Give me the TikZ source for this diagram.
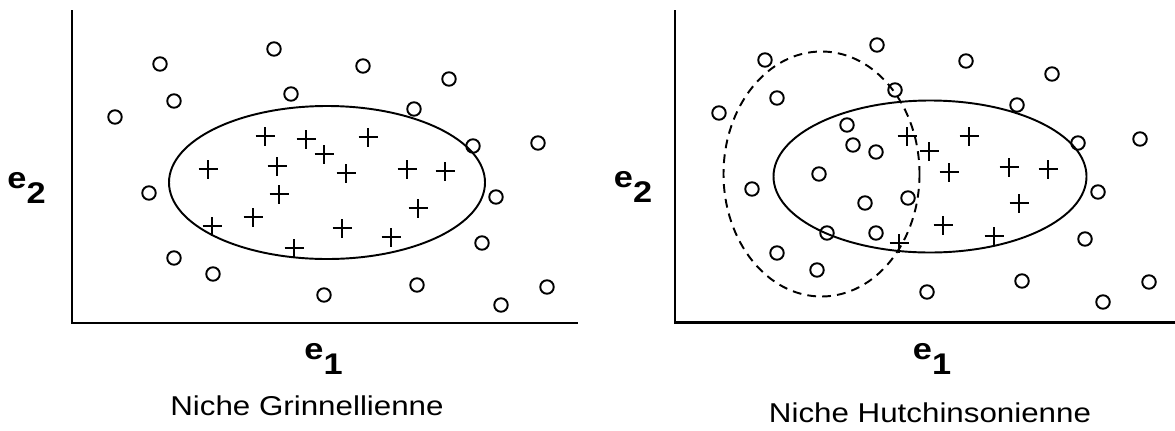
\documentclass[tikz,border=0pt]{standalone}
\usepackage{fontspec}
\setmainfont{Liberation Sans}
\usetikzlibrary{shapes.misc}

\newcommand{\breit}[1]{\scalebox{1.15}[1]{#1}}

\tikzset{
	kreis/.style={draw, circle, inner sep=0pt, minimum size=0.27cm, line width=1.1pt},
	kreuz/.style={draw, cross out, rotate=45, inner sep=0pt, minimum size=0.23cm, line width=1.1pt},
	achse/.style={line width=1.4pt},
	nische/.style={line width=1.1pt},
	achsname/.style={inner sep=0pt, font=\fontsize{17}{17}\selectfont\bfseries},
	titel/.style={inner sep=0pt, anchor=base, font=\fontsize{15.5}{15.5}\selectfont},
}

\begin{document}
\begin{tikzpicture}[x=0.02cm, y=-0.02cm]
	\useasboundingbox (0,0) rectangle (1175,430);

	% Achsen links
	\coordinate (lo) at (72,10);
	\coordinate (lu) at (72,323);
	\coordinate (lr) at (578,323);
	\draw[achse] (lo) -- (lu) -- (lr);
	% Achsen rechts
	\coordinate (ro) at (675,10);
	\coordinate (ru) at (675,322.5);
	\coordinate (rr) at (1175,322.5);
	\draw[achse] (ro) -- (ru) -- (rr);

	% Nische links
	\draw[nische] (327,182.5) ellipse [x radius=158, y radius=76.5];
	% Nischen rechts
	\draw[nische] (930,176.5) ellipse [x radius=156.5, y radius=76];
	\draw[nische, dash pattern=on 5pt off 3.5pt] (821.5,174) ellipse [x radius=98, y radius=122.5];

	% Kreise links
	\foreach \x/\y [count=\i] in {274/49, 160/64, 363/66, 449/79, 174/101, 291/94,
		115/117, 414/109, 473/146, 538/143, 149/193, 496/197, 482/243, 174/258,
		213/274, 324/295, 417/285, 547/287, 501/305}
		\node[kreis] (gk\i) at (\x,\y) {};
	% Kreuze links
	\foreach \x/\y [count=\i] in {265/136, 306/139, 368/137, 324/154, 208/169,
		277/166, 346/173, 407/169, 445/171, 279/194, 253/217, 418/208, 212/226,
		342/228, 391/237, 294/248}
		\node[kreuz] (gp\i) at (\x,\y) {};

	% Kreise rechts
	\foreach \x/\y [count=\i] in {877/45, 765/60, 966/61, 1052/74, 895/90, 777/98,
		719/113, 1017/105, 847/125, 1078/143, 1140/139, 853/145, 876/152, 819/174,
		752/189, 1098/192, 865/203, 908/198, 827/233, 876/233, 1085/239, 777/253,
		817/270, 1022/281, 1149/282, 927/292, 1103/302}
		\node[kreis] (hk\i) at (\x,\y) {};
	% Kreuze rechts
	\foreach \x/\y [count=\i] in {907/136, 929/151, 969/136, 949/172, 1009/167,
		1048/169, 1019/203, 943/225, 994/236, 899/243}
		\node[kreuz] (hp\i) at (\x,\y) {};

	% Beschriftungen
	\node[achsname] (ge2) at (26.5,187.5) {\breit{e\raisebox{-8.5pt}{2}}};
	\node[achsname] (ge1) at (323.5,358.5) {\breit{e\raisebox{-8.5pt}{1}}};
	\node[achsname] (he2) at (633,187) {\breit{e\raisebox{-8.5pt}{2}}};
	\node[achsname] (he1) at (932,359) {\breit{e\raisebox{-8.5pt}{1}}};
	\node[titel] (gtitel) at (307,415.5) {\breit{Niche Grinnellienne}};
	\node[titel] (htitel) at (930,422) {\breit{Niche Hutchinsonienne}};
\end{tikzpicture}
\end{document}
